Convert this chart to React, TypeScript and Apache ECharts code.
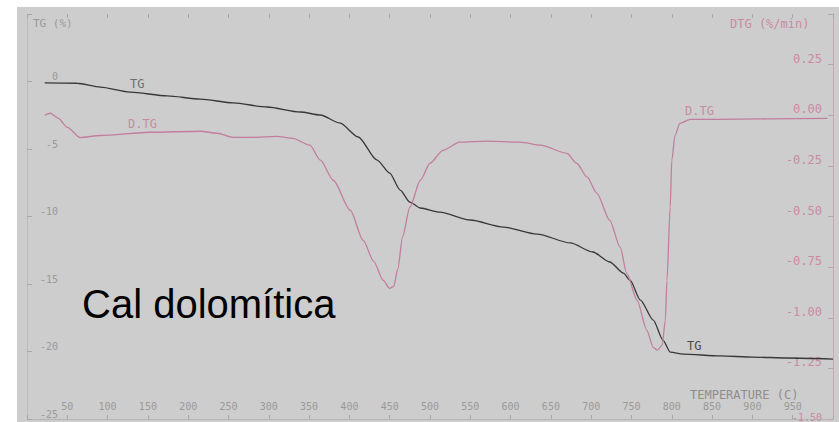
import React, { useEffect, useRef } from 'react';
import * as echarts from 'echarts';

// Thermogravimetric run of a dolomitic lime: mass loss (TG) and its derivative (DTG)
const tgTemp = [22, 62, 91, 128, 174, 215, 256, 298, 339, 364, 388, 411, 434, 450, 463, 475, 488, 512, 550, 591, 633, 674, 702, 723, 740, 748, 761, 777, 789, 798, 814, 860, 901, 943, 1000];
const tgPct = [-0.1, -0.13, -0.41, -0.78, -1.07, -1.3, -1.59, -1.89, -2.26, -2.48, -3.07, -4.11, -5.81, -6.78, -8.04, -8.93, -9.37, -9.67, -10.26, -10.78, -11.3, -11.96, -12.63, -13.37, -14.19, -14.7, -16.19, -17.67, -19.15, -20.04, -20.19, -20.33, -20.41, -20.48, -20.56];

const dtgTemp = [22, 29, 39, 50, 66, 91, 153, 215, 236, 256, 280, 310, 330, 351, 364, 380, 401, 417, 430, 442, 450, 455, 460, 466, 475, 488, 500, 516, 537, 571, 612, 637, 670, 682, 695, 707, 723, 736, 744, 757, 769, 777, 782, 788, 792, 794, 798, 800, 804, 810, 823, 856, 993];
const dtgRate = [0, 0.01, -0.015, -0.06, -0.11, -0.1, -0.084, -0.079, -0.089, -0.109, -0.109, -0.104, -0.114, -0.148, -0.222, -0.321, -0.469, -0.617, -0.72, -0.815, -0.855, -0.845, -0.76, -0.6, -0.454, -0.321, -0.237, -0.173, -0.133, -0.128, -0.133, -0.148, -0.188, -0.237, -0.306, -0.385, -0.519, -0.652, -0.78, -0.914, -1.062, -1.146, -1.16, -1.136, -1.012, -0.815, -0.454, -0.222, -0.099, -0.04, -0.02, -0.02, -0.015];

// Axis extents
const tempRange = [0, 1000];
const tgRange = [-25, 5];
const dtgRange = [-1.5, 0.5];

const MONO = '"DejaVu Sans Mono", "Liberation Mono", monospace';
const GREY_TEXT = '#9a9a9a';
const PINK_TEXT = '#c98ba4';
const TG_COLOR = '#383838';
const DTG_COLOR = '#c27e9c';

export default function App() {
  const ref = useRef<HTMLDivElement>(null);

  useEffect(() => {
    if (!ref.current) return;
    const chart = echarts.init(ref.current, undefined, { renderer: 'svg' });

    const tgData = tgTemp.map((t, i) => [t, tgPct[i]]);
    const dtgData = dtgTemp.map((t, i) => [t, dtgRate[i]]);

    chart.setOption({
      animation: false,
      backgroundColor: '#cdcdcd',
      grid: { left: 10, right: 6, top: 7, bottom: 3 },
      xAxis: [
        {
          type: 'value',
          position: 'bottom',
          min: tempRange[0],
          max: tempRange[1],
          interval: 50,
          axisLine: { show: true, onZero: false, lineStyle: { color: '#b4b4b4', width: 1 } },
          axisTick: { show: true, inside: true, length: 4, lineStyle: { color: '#a8a8a8' } },
          axisLabel: {
            inside: true,
            margin: 13,
            verticalAlign: 'middle',
            color: GREY_TEXT,
            fontFamily: MONO,
            fontSize: 10,
            formatter: (v: number) => (v === tempRange[0] || v === tempRange[1] ? '' : String(v)),
          },
          splitLine: { show: false },
        },
        {
          type: 'value',
          position: 'top',
          min: tempRange[0],
          max: tempRange[1],
          interval: 50,
          axisLine: { show: false, onZero: false },
          axisTick: { show: true, inside: true, length: 4, lineStyle: { color: '#a8a8a8' } },
          axisLabel: { show: false },
          splitLine: { show: false },
        },
      ],
      yAxis: [
        {
          type: 'value',
          position: 'left',
          min: tgRange[0],
          max: tgRange[1],
          interval: 5,
          axisLine: { show: true, onZero: false, lineStyle: { color: '#bcbcbc', width: 1 } },
          axisTick: { show: true, inside: true, length: 5, lineStyle: { color: '#a8a8a8' } },
          axisLabel: {
            inside: true,
            margin: 31,
            align: 'right',
            verticalAlign: 'bottom',
            color: GREY_TEXT,
            fontFamily: MONO,
            fontSize: 10,
            formatter: (v: number) => (v === tgRange[1] ? '' : String(v)),
          },
          splitLine: { show: false },
        },
        {
          type: 'value',
          position: 'right',
          min: dtgRange[0],
          max: dtgRange[1],
          interval: 0.25,
          axisLine: { show: true, onZero: false, lineStyle: { color: '#c4a9b5', width: 1 } },
          axisTick: { show: true, inside: true, length: 5, lineStyle: { color: '#c0a0ae' } },
          axisLabel: {
            inside: true,
            margin: 11,
            align: 'right',
            verticalAlign: 'bottom',
            color: PINK_TEXT,
            fontFamily: MONO,
            fontSize: 12,
            formatter: (v: number) => {
              if (v === dtgRange[1]) return '';
              if (v === dtgRange[0]) return `{low|${v.toFixed(2)}}`;
              return v.toFixed(2);
            },
            rich: {
              low: { fontSize: 10, lineHeight: 4, color: PINK_TEXT, fontFamily: MONO },
            },
          },
          splitLine: { show: false },
        },
      ],
      series: [
        {
          name: 'TG',
          type: 'line',
          xAxisIndex: 0,
          yAxisIndex: 0,
          data: tgData,
          showSymbol: false,
          smooth: 0.25,
          smoothMonotone: 'x',
          lineStyle: { color: TG_COLOR, width: 1.3 },
        },
        {
          name: 'D.TG',
          type: 'line',
          xAxisIndex: 0,
          yAxisIndex: 1,
          data: dtgData,
          showSymbol: false,
          smooth: 0.25,
          smoothMonotone: 'x',
          lineStyle: { color: DTG_COLOR, width: 1.3 },
        },
      ],
      graphic: [
        { type: 'text', left: 16, top: 11, style: { text: 'TG (%)', fill: GREY_TEXT, font: `11px ${MONO}` } },
        { type: 'text', left: 713, top: 11, style: { text: 'DTG (%/min)', fill: PINK_TEXT, font: `12px ${MONO}` } },
        { type: 'text', left: 673, top: 382, style: { text: 'TEMPERATURE (C)', fill: '#8e8e8e', font: `12px ${MONO}` } },
        { type: 'text', left: 113, top: 71, style: { text: 'TG', fill: '#6e6e6e', font: `12px ${MONO}` } },
        { type: 'text', left: 111, top: 111, style: { text: 'D.TG', fill: PINK_TEXT, font: `12px ${MONO}` } },
        { type: 'text', left: 668, top: 98, style: { text: 'D.TG', fill: PINK_TEXT, font: `12px ${MONO}` } },
        { type: 'text', left: 670, top: 333, style: { text: 'TG', fill: '#4a4a4a', font: `12px ${MONO}` } },
        {
          type: 'text',
          left: 65,
          top: 277,
          style: {
            text: 'Cal dolomítica',
            fill: '#000000',
            font: '40px "Liberation Sans", Arial, sans-serif',
          },
        },
      ],
    });

    return () => chart.dispose();
  }, []);

  return (
    <div style={{ position: 'fixed', left: 0, top: 0, width: 839, height: 422, background: '#ffffff' }}>
      <div ref={ref} style={{ position: 'absolute', left: 17, top: 7, width: 822, height: 415 }} />
    </div>
  );
}
